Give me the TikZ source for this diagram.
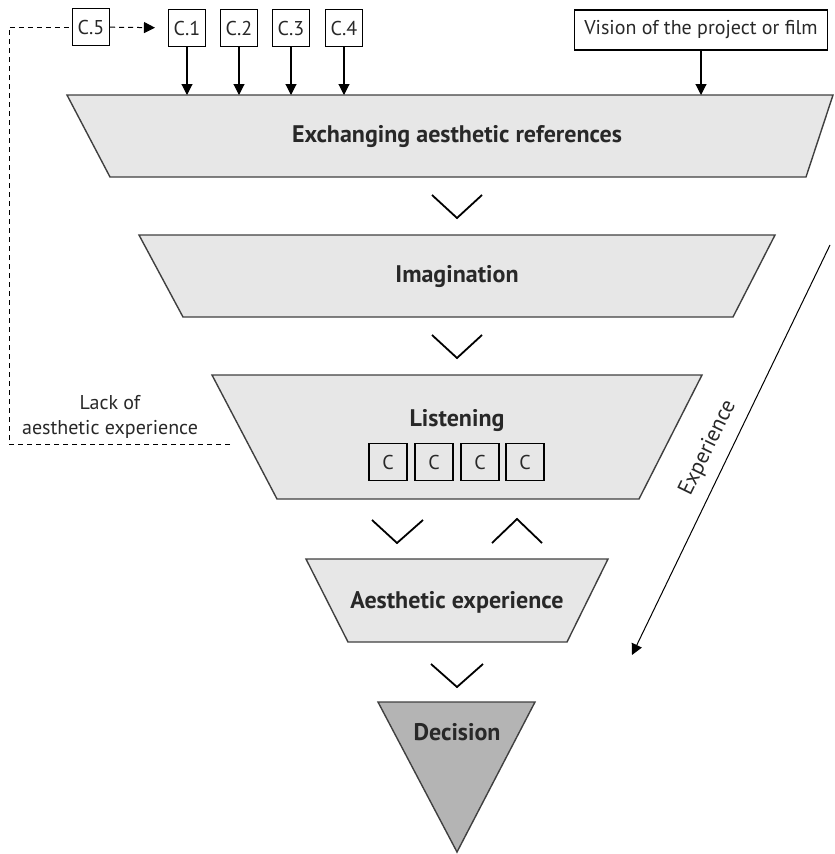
\documentclass[tikz,border=0pt]{standalone}
\usepackage{fontspec}
\setmainfont{PT Sans}
\usetikzlibrary{arrows.meta}
\definecolor{stageGray}{RGB}{231,231,231}
\definecolor{decisionGray}{RGB}{180,180,180}
\definecolor{textGray}{RGB}{40,40,40}

\begin{document}
\begin{tikzpicture}[x=1pt,y=-1pt,text=textGray,line width=1.1pt,
    stage/.style={font=\bfseries\fontsize{24}{28}\selectfont},
    chevron/.style={line width=1.8pt},
    tip/.style={-{Triangle[width=11pt,length=11pt]}},
    loop/.style={line width=1pt,dash pattern=on 5pt off 4pt}]
	\useasboundingbox (0,0) rectangle (835,854);

	% funnel stages
	\begin{scope}[draw=black!75,line width=1.4pt]
		\filldraw[fill=stageGray] (67,95) -- (833,95) -- (806,177) -- (110,177) -- cycle;
		\filldraw[fill=stageGray] (139,235) -- (775,235) -- (733,317) -- (183,317) -- cycle;
		\filldraw[fill=stageGray] (212,375) -- (702,375) -- (639,499) -- (277,499) -- cycle;
		\filldraw[fill=stageGray] (306,559) -- (608,559) -- (567,642) -- (348,642) -- cycle;
		\filldraw[fill=decisionGray] (378,702) -- (535,702) -- (457,852) -- cycle;
	\end{scope}
	\node (S1) at (457,137) [stage] {Exchanging aesthetic references};
	\node (S2) at (457,277) [stage] {Imagination};
	\node (S3) at (457,421) [stage] {Listening};
	\node (S4) at (457,602) [stage] {Aesthetic experience};
	\node (S5) at (457,732) [stage] {Decision};

	% chevrons between stages
	\draw[chevron] (432,195) -- (457,218) -- (482,195);
	\draw[chevron] (432,335) -- (457,358) -- (482,335);
	\draw[chevron] (372,520) -- (397,543) -- (423,520);
	\draw[chevron] (492,543) -- (517,519) -- (542,543);
	\draw[chevron] (431,664) -- (457,687) -- (483,664);

	% inputs
	\begin{scope}[every node/.style={draw,line width=1.1pt,minimum size=37pt,inner sep=0pt,
	    font=\fontsize{20}{24}\selectfont}]
		\node (C5) at (91,27) {C.5};
		\node (C1) at (187,28) {C.1};
		\node (C2) at (239,28) {C.2};
		\node (C3) at (291,28) {C.3};
		\node (C4) at (344,28) {C.4};
		\node (V) at (701,30) [minimum width=253pt,minimum height=40pt] {Vision of the project or film};
	\end{scope}
	\begin{scope}[every node/.style={draw,line width=1.1pt,minimum width=38pt,minimum height=37pt,
	    inner sep=0pt,font=\fontsize{20}{24}\selectfont}]
		\node (L1) at (388,462) {C};
		\node (L2) at (434,462) {C};
		\node (L3) at (480,462) {C};
		\node (L4) at (525,462) {C};
	\end{scope}

	\coordinate (T1) at (187,95);
	\coordinate (T2) at (239,95);
	\coordinate (T3) at (291,95);
	\coordinate (T4) at (344,95);
	\coordinate (TV) at (701,95);
	\begin{scope}[every edge/.style={draw,line width=1.1pt}]
		\path [tip] (C1) edge (T1);
		\path [tip] (C2) edge (T2);
		\path [tip] (C3) edge (T3);
		\path [tip] (C4) edge (T4);
		\path [tip] (V) edge (TV);
	\end{scope}

	% feedback loop
	\coordinate (F1) at (230,444);
	\coordinate (F2) at (9,444);
	\coordinate (F3) at (9,27);
	\draw[loop] (F1) -- (F2) -- (F3) -- (C5);
	\draw[loop,tip,shorten >=13pt] (C5) -- (C1);
	\node (lack) at (110,417) [align=center,font=\fontsize{20}{25}\selectfont]
	    {Lack of\\aesthetic experience};

	% experience axis
	\coordinate (E1) at (830,245);
	\coordinate (E2) at (632,655);
	\draw[tip,line width=1pt] (E1) -- (E2);
	\node (exp) at (708,448) [rotate=64,font=\fontsize{22}{26}\selectfont] {Experience};
\end{tikzpicture}
\end{document}
